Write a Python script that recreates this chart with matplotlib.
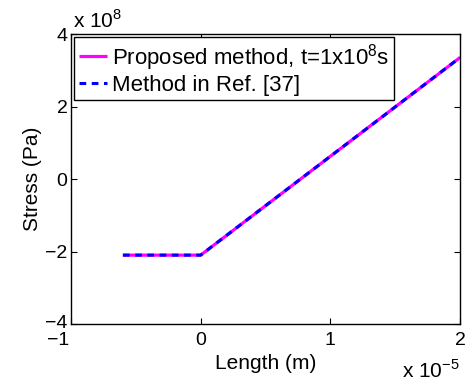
import matplotlib
matplotlib.use("Agg")
import matplotlib.pyplot as plt
from matplotlib.ticker import FuncFormatter, FixedLocator
from matplotlib.transforms import ScaledTranslation

plt.rcParams['font.family'] = ['Liberation Sans', 'DejaVu Sans']
plt.rcParams['mathtext.fontset'] = 'custom'
plt.rcParams['mathtext.rm'] = 'Liberation Sans'

# Stress distribution along the length
length_m = [-0.6e-5, 0.0, 2.0e-5]
stress_proposed = [-2.1e8, -2.1e8, 3.35e8]
stress_ref37 = [-2.1e8, -2.1e8, 3.35e8]

x_ticks = [-1e-5, 0, 1e-5, 2e-5]
y_ticks = [-4e8, -2e8, 0, 2e8, 4e8]
x_scale = 1e-5
y_scale = 1e8

TICK_FS = 14
LABEL_FS = 15
LEG_FS = 16

fig = plt.figure(figsize=(4.66, 3.9), dpi=100)
ax = fig.add_axes([0.1524, 0.1692, 0.8347, 0.7436])

ax.plot(length_m, stress_proposed, color='#ff00ff', lw=2.3, solid_capstyle='butt',
        label='Proposed method, t=1x10$^{8}$s')
ax.plot(length_m, stress_ref37, color='#0000ff', lw=2.2, ls=(0, (2.2, 1.8)),
        label='Method in Ref. [37]')

ax.set_xlim(-1e-5, 2e-5)
ax.set_ylim(-4e8, 4e8)
ax.xaxis.set_major_locator(FixedLocator(x_ticks))
ax.yaxis.set_major_locator(FixedLocator(y_ticks))

def fmt(scale):
    def f(v, pos):
        n = int(round(v / scale))
        return ('\u2212' + str(-n)) if n < 0 else str(n)
    return f

ax.xaxis.set_major_formatter(FuncFormatter(fmt(x_scale)))
ax.yaxis.set_major_formatter(FuncFormatter(fmt(y_scale)))

ax.tick_params(direction='in', length=4, width=0.8, labelsize=TICK_FS,
               top=True, right=True, colors='black')
ax.tick_params(axis='x', pad=6)
ax.tick_params(axis='y', pad=2.5)
for s in ax.spines.values():
    s.set_linewidth(1.0)

# the leftmost x tick label sits to the left of its tick
first = ax.xaxis.get_major_ticks()[0].label1
first.set_horizontalalignment('right')
first.set_transform(first.get_transform()
                    + ScaledTranslation(-0.02, 0, fig.dpi_scale_trans))
# the lowest y tick label sits slightly above its tick
low = ax.yaxis.get_major_ticks()[0].label1
low.set_transform(low.get_transform()
                  + ScaledTranslation(0, 0.025, fig.dpi_scale_trans))

ax.set_xlabel('Length (m)', fontsize=LABEL_FS, labelpad=3)
ax.set_ylabel('Stress (Pa)', fontsize=LABEL_FS, labelpad=2)

ax.text(0.005, 1.021, 'x 10$^{8}$', transform=ax.transAxes, fontsize=LABEL_FS,
        ha='left', va='baseline')
ax.text(1.0, -0.186, 'x 10$^{-5}$', transform=ax.transAxes, fontsize=LABEL_FS,
        ha='right', va='baseline')

leg = ax.legend(loc='upper left', bbox_to_anchor=(0.0, 1.0), fontsize=LEG_FS,
                frameon=True, fancybox=False, edgecolor='black', framealpha=1,
                borderpad=0.2, handlelength=1.25, handletextpad=0.25,
                labelspacing=0.1, borderaxespad=0.15)
leg.get_frame().set_linewidth(1.0)

fig.savefig('out.png', dpi=100)
